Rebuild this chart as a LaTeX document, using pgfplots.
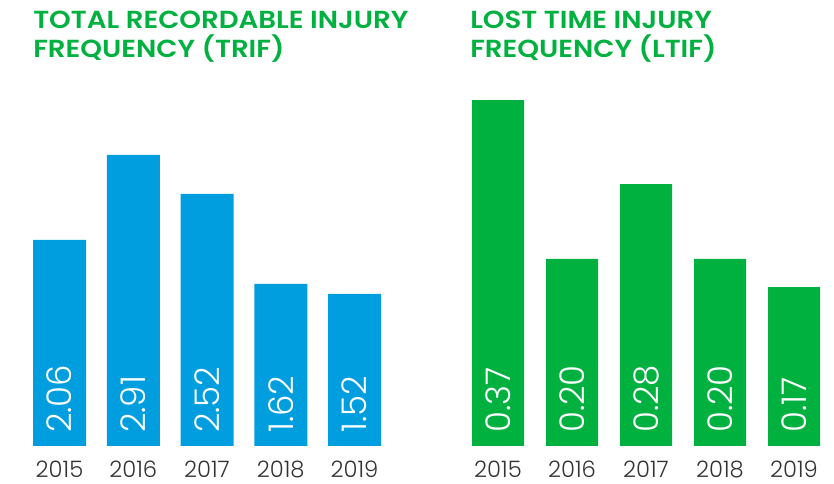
\documentclass[border=0pt]{standalone}
\usepackage{pgfplots}
\pgfplotsset{compat=1.18}
\usepackage{fontspec}
\setmainfont{Poppins}
\newfontfamily\lightfont{Poppins Light}
\newfontfamily\titlefont{Poppins SemiBold}
\definecolor{barblue}{RGB}{0,157,223}
\definecolor{bargreen}{RGB}{0,177,64}
\definecolor{yeargray}{RGB}{51,51,51}
\newcommand{\ttl}[1]{\scalebox{1.12}[1]{\titlefont\fontsize{18.5}{18.5}\selectfont #1}}
\begin{document}
\begin{tikzpicture}
\useasboundingbox (0,0) rectangle (625.5pt,363pt);
\pgfplotsset{
  panel/.style={
    scale only axis,
    axis line style={draw=none},
    major tick length=0pt,
    ytick=\empty,
    xtick={0,1,2,3,4},
    xticklabels={2015,2016,2017,2018,2019},
    xticklabel style={font=\lightfont\fontsize{17}{17}\selectfont, text=yeargray, anchor=north, inner sep=0pt, yshift=-11pt},
    xmin=-0.5, xmax=4.5, ymin=0,
    clip=false,
  },
  vlabel/.style={draw=none, nodes near coords, point meta=explicit symbolic,
    nodes near coords align={anchor=west},
    every node near coord/.style={rotate=90, anchor=west, inner xsep=9.75pt, inner ysep=0pt, text=white, font=\lightfont\fontsize{25.5}{25.5}\selectfont}},
}
\begin{axis}[panel, at={(16.97pt,28.5pt)}, anchor=south west, width=276.56pt, height=225pt, ymax=3]
\addplot[ybar, bar width=39.75pt, fill=barblue, draw=none] coordinates {(0,2.06) (1,2.91) (2,2.52) (3,1.62) (4,1.52)};
\addplot[vlabel] coordinates {(0,0)[2.06] (1,0)[2.91] (2,0)[2.52] (3,0)[1.62] (4,0)[1.52]};
\end{axis}
\begin{axis}[panel, at={(345.75pt,28.5pt)}, anchor=south west, width=277.5pt, height=280.5pt, ymax=0.4]
\addplot[ybar, bar width=39pt, fill=bargreen, draw=none] coordinates {(0,0.37) (1,0.20) (2,0.28) (3,0.20) (4,0.17)};
\addplot[vlabel] coordinates {(0,0)[0.37] (1,0)[0.20] (2,0)[0.28] (3,0)[0.20] (4,0)[0.17]};
\end{axis}
\node[anchor=base west, inner sep=0pt, text=bargreen] at (24.75pt,341.25pt) {\ttl{TOTAL RECORDABLE INJURY}};
\node[anchor=base west, inner sep=0pt, text=bargreen] at (24.75pt,319.5pt) {\ttl{FREQUENCY (TRIF)}};
\node[anchor=base west, inner sep=0pt, text=bargreen] at (352.5pt,341.25pt) {\ttl{LOST TIME INJURY}};
\node[anchor=base west, inner sep=0pt, text=bargreen] at (352.5pt,319.5pt) {\ttl{FREQUENCY (LTIF)}};
\end{tikzpicture}
\end{document}
